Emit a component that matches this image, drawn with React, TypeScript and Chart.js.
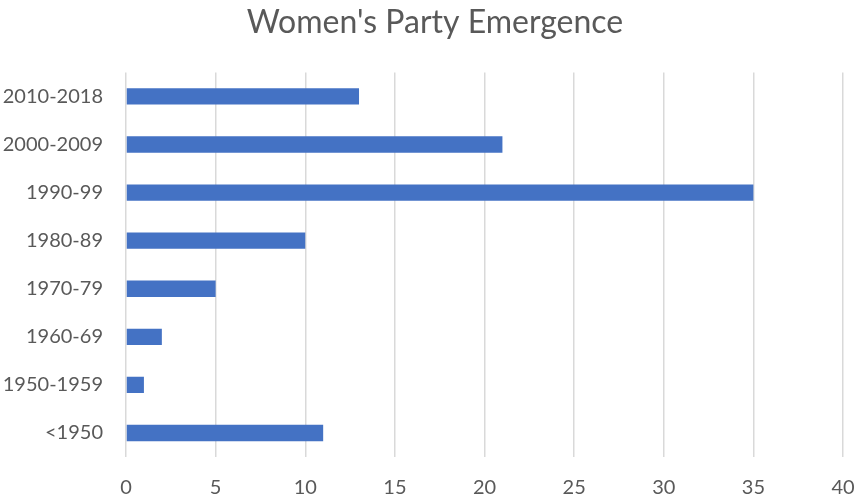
import React, { useEffect, useRef } from "react";
import { Chart, registerables } from "chart.js";

Chart.register(...registerables);

const categories: string[] = [
  "2010-2018",
  "2000-2009",
  "1990-99",
  "1980-89",
  "1970-79",
  "1960-69",
  "1950-1959",
  "<1950",
];
const values: number[] = [13, 21, 35, 10, 5, 2, 1, 11];
const xTicks: number[] = [0, 5, 10, 15, 20, 25, 30, 35, 40];
const titleText = "Women's Party Emergence";

export default function App() {
  const ref = useRef<HTMLCanvasElement | null>(null);

  useEffect(() => {
    document.body.style.margin = "0";
    const canvas = ref.current;
    if (!canvas) return;
    const textColor = "#595959";
    const chart = new Chart(canvas, {
      type: "bar",
      data: {
        labels: categories,
        datasets: [
          {
            data: values,
            backgroundColor: "#4472C4",
            borderWidth: 0,
            categoryPercentage: 1,
            barPercentage: 0.34,
          },
        ],
      },
      options: {
        indexAxis: "y",
        animation: false,
        responsive: false,
        devicePixelRatio: 1,
        layout: { padding: { left: 0, right: -8, top: 0, bottom: 0 } },
        plugins: {
          legend: { display: false },
          tooltip: { enabled: false },
          title: {
            display: true,
            text: titleText,
            color: textColor,
            font: { family: "Lato", size: 32, weight: "normal" },
            padding: { top: 3, bottom: 31 },
          },
        },
        scales: {
          x: {
            min: xTicks[0],
            max: xTicks[xTicks.length - 1],
            afterBuildTicks: (scale: any) => {
              scale.ticks = xTicks.map((v) => ({ value: v }));
            },
            afterFit: (scale: any) => {
              scale.height = 42;
              scale.paddingLeft = 0;
              scale.paddingRight = 19;
            },
            grid: { color: "#d9d9d9", lineWidth: 1.5, drawTicks: false },
            border: { display: false },
            ticks: {
              color: textColor,
              font: { family: "Lato", size: 20 },
              padding: 19,
            },
          },
          y: {
            afterFit: (scale: any) => {
              scale.width = 126;
            },
            grid: { display: false, drawTicks: false },
            border: { display: false },
            ticks: {
              color: textColor,
              font: { family: "Lato", size: 20 },
              padding: 23,
            },
          },
        },
      },
    });
    return () => chart.destroy();
  }, []);

  return <canvas ref={ref} width={862} height={499} style={{ display: "block" }} />;
}
